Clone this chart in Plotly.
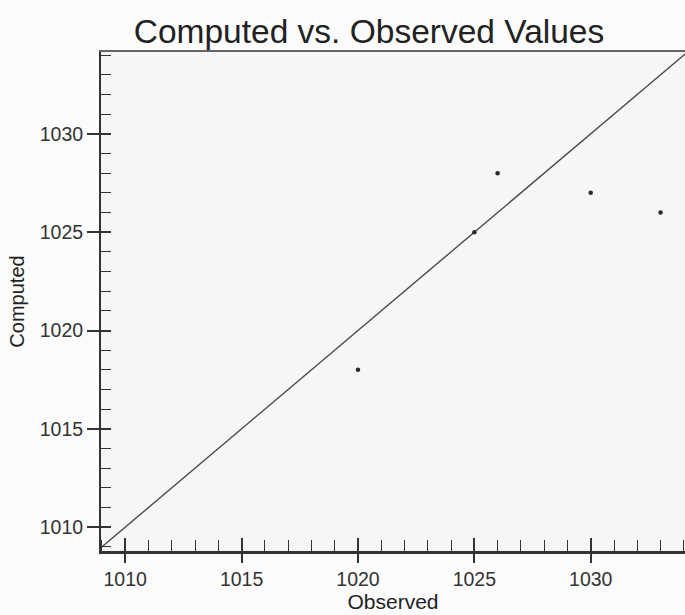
import plotly.graph_objects as go

# Data
observed = [1020, 1025, 1026, 1030, 1033]
computed = [1018, 1025, 1028, 1027, 1026]
ref_line = [1008, 1036]          # y = x reference line endpoints (clipped by axes)
major_ticks = [1010, 1015, 1020, 1025, 1030]
x_range = [1008.96, 1034.05]
y_range = [1008.79, 1034.16]

FONT = "Liberation Sans, Arial, sans-serif"
AXC = "#333333"

fig = go.Figure()
fig.add_trace(go.Scatter(x=ref_line, y=ref_line, mode="lines",
                         line=dict(color="#4a4a4a", width=1.4),
                         hoverinfo="skip", showlegend=False, cliponaxis=True))
fig.add_trace(go.Scatter(x=observed, y=computed, mode="markers",
                         marker=dict(color="#2a2a2a", size=4.5),
                         showlegend=False))
# empty traces to attach overlay axes
fig.add_trace(go.Scatter(x=[], y=[], xaxis="x2", yaxis="y", showlegend=False))
fig.add_trace(go.Scatter(x=[], y=[], xaxis="x3", yaxis="y", showlegend=False))
fig.add_trace(go.Scatter(x=[], y=[], xaxis="x", yaxis="y2", showlegend=False))

tickfont = dict(family=FONT, size=19.5, color="#333333")

fig.update_layout(
    width=685, height=615,
    margin=dict(l=101, r=0, t=52, b=64),
    paper_bgcolor="#fbfbfb",
    plot_bgcolor="#f6f6f6",
    title=dict(text="Computed vs. Observed Values",
               font=dict(family=FONT, size=33.5, color="#222222"),
               xref="container", x=369/685, xanchor="center",
               yref="container", y=1-31/615, yanchor="middle"),
    xaxis=dict(range=x_range, tickvals=major_ticks, ticks="outside",
               ticklen=9, tickwidth=1.5, tickcolor=AXC,
               showgrid=False, zeroline=False,
               showline=True, linecolor=AXC, linewidth=3,
               tickfont=tickfont,
               minor=dict(dtick=1, tick0=1010, ticks="inside", ticklen=11,
                          tickwidth=1.2, tickcolor=AXC, showgrid=False),
               title=dict(text="Observed", font=dict(family=FONT, size=21, color="#222222"),
                          standoff=4)),
    xaxis2=dict(range=x_range, overlaying="x", anchor="y", side="bottom",
                tickvals=major_ticks, ticks="inside", ticklen=13, tickwidth=1.5,
                tickcolor=AXC, showticklabels=False, showgrid=False,
                zeroline=False, showline=False),
    xaxis3=dict(range=x_range, overlaying="x", anchor="y", side="top",
                ticks="", showticklabels=False, showgrid=False, zeroline=False,
                showline=True, linecolor="#666666", linewidth=2),
    yaxis=dict(range=y_range, tickvals=major_ticks, ticks="outside",
               ticklen=12, tickwidth=1.5, tickcolor=AXC,
               showgrid=False, zeroline=False,
               showline=True, linecolor=AXC, linewidth=2,
               tickfont=tickfont,
               minor=dict(dtick=1, tick0=1010, ticks="inside", ticklen=10,
                          tickwidth=1.2, tickcolor=AXC, showgrid=False),
               title=dict(text="Computed", font=dict(family=FONT, size=20, color="#222222"),
                          standoff=10)),
    yaxis2=dict(range=y_range, overlaying="y", anchor="x", side="left",
                tickvals=major_ticks, ticks="inside", ticklen=10, tickwidth=1.5,
                tickcolor=AXC, showticklabels=False, showgrid=False,
                zeroline=False, showline=False),
)

fig.write_html("out.html", config={"displayModeBar": False},
               post_script="document.body.style.margin='0';document.body.style.overflow='hidden';")
